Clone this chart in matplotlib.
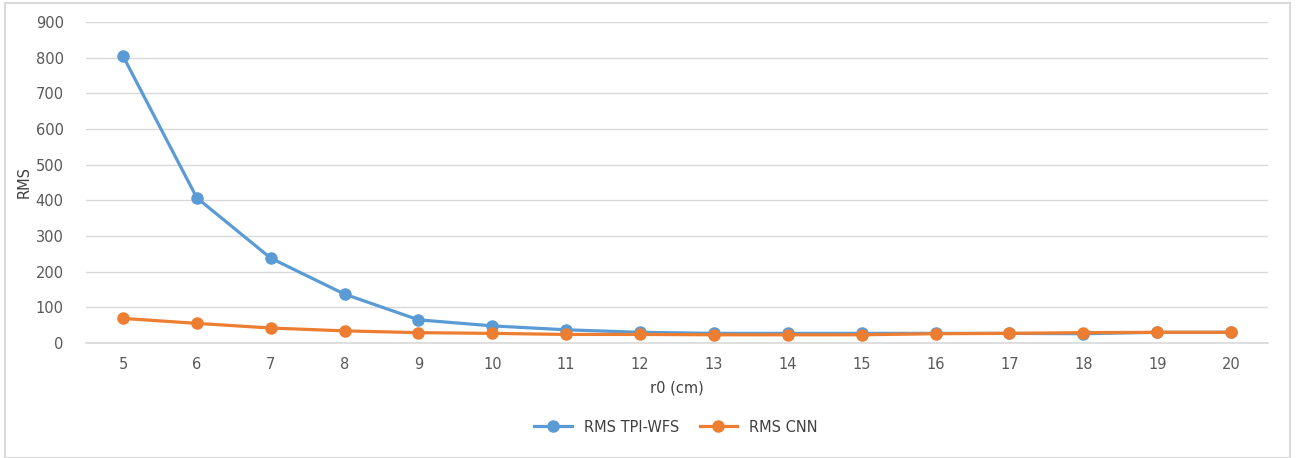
import matplotlib.pyplot as plt
from matplotlib.patches import Rectangle

r0 = [5, 6, 7, 8, 9, 10, 11, 12, 13, 14, 15, 16, 17, 18, 19, 20]
rms_tpi = [805, 407, 238, 137, 65, 48, 37, 30, 27, 27, 27, 27, 27, 26, 30, 30]
rms_cnn = [69, 55, 42, 34, 29, 27, 24, 24, 23, 23, 23, 26, 27, 29, 30, 30]

fig = plt.figure(figsize=(12.96, 4.58), dpi=100)
ax = fig.add_axes([86 / 1296, 1 - 343 / 458, (1268 - 86) / 1296, (343 - 22) / 458])

# chart area border like the spreadsheet export
fig.patches.append(Rectangle((5 / 1296, 0), 1285 / 1296, 455 / 458, transform=fig.transFigure,
                             fill=False, edgecolor='#d9d9d9', linewidth=1.5))

pos = list(range(len(r0)))
ax.plot(pos, rms_tpi, color='#5b9bd5', linewidth=2.3, marker='o', markersize=8, label='RMS TPI-WFS')
ax.plot(pos, rms_cnn, color='#ed7d31', linewidth=2.3, marker='o', markersize=8, label='RMS CNN')

ax.set_xlim(-0.5, len(r0) - 0.5)
ax.set_ylim(0, 900)
ax.set_yticks(range(0, 901, 100))
ax.set_xticks(pos)
ax.set_xticklabels([str(v) for v in r0])
ax.grid(axis='y', color='#d9d9d9', linewidth=1)
ax.set_axisbelow(True)
for s in ['top', 'right', 'left']:
    ax.spines[s].set_visible(False)
ax.spines['bottom'].set_color('#d9d9d9')
ax.spines['bottom'].set_linewidth(1.2)
ax.tick_params(length=0, labelsize=10.5, colors='#595959', pad=10)
ax.tick_params(axis='y', pad=16)

ax.set_ylabel('RMS', fontsize=10.5, color='#404040')
ax.yaxis.set_label_coords(-(86 - 32) / 1182, 0.5)
ax.set_xlabel('r0 (cm)', fontsize=10.5, color='#404040', labelpad=6)

fig.legend(loc='center', bbox_to_anchor=(676 / 1296, 1 - 427 / 458), ncol=2, frameon=False,
           fontsize=10.5, labelcolor='#404040', handlelength=2.6, columnspacing=1.4, handletextpad=0.8)

fig.savefig('out.png', dpi=100)
